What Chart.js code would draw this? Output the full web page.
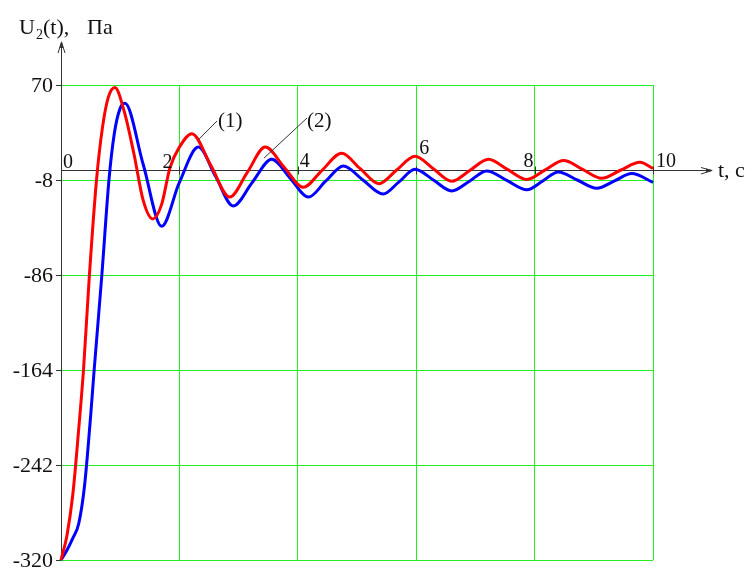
<!DOCTYPE html>
<html><head><meta charset="utf-8">
<script src="https://cdn.jsdelivr.net/npm/chart.js@4.4.0/dist/chart.umd.min.js"></script>
<style>html,body{margin:0;padding:0;background:#fff;}canvas{display:block;}</style>
</head><body>
<canvas id="c" width="755" height="570"></canvas>
<script>
// ---- data ----
const tRed = [0,0.1,0.2,0.3,0.38,0.48,0.6,0.7,0.8,0.91,1.07,1.23,1.39,1.55,1.7,1.84,2.0,2.21,2.53,2.85,3.15,3.45,3.77,4.09,4.41,4.74,5.05,5.37,5.67,5.98,6.29,6.6,6.91,7.22,7.54,7.87,8.18,8.49,8.81,9.13,9.45,9.78,10];
const uRed = [-320,-300,-266,-212,-164,-86,-8,35,60,68,48,14,-25,-40,-28,2,19,30,4,-22,-1.5,19,2.5,-14,0,14,1.5,-11,0.25,11.5,1.25,-9,0,9,0.75,-7.5,0.25,8,0.7,-6.6,0,6.5,1.5];
const tBlue = [0,0.1,0.2,0.3,0.4,0.5,0.56,0.69,0.81,0.9,1.0,1.08,1.39,1.7,2.0,2.32,2.61,2.91,3.23,3.56,3.87,4.18,4.47,4.77,5.1,5.44,5.71,5.98,6.29,6.6,6.9,7.19,7.53,7.87,8.14,8.4,8.72,9.05,9.35,9.64,10];
const uBlue = [-320,-312,-302,-290,-258,-202,-164,-86,-8,30,51,55,4.5,-46,-10,19,-5,-29.3,-10,9,-6.5,-22,-9,3.5,-8,-19.5,-9.5,0.8,-8,-17,-9,-0.6,-8.3,-16,-8.7,-1.4,-8,-14.8,-8.7,-2.7,-10];
const yTicks = [70,-8,-86,-164,-242,-320];
const xTicks = [0,2,4,6,8,10];
const xTickLabels = ['0','2','4','6','8','10'];
const seriesLabels = ['(1)','(2)'];
const labelAnchorT = [2.32,3.43];
const yAxisTitle = ['U','2','(t),','Па'];
const xAxisTitle = 't, c';

const toXY = (ts, us) => ts.map((t, i) => ({x: t, y: us[i]}));
const SERIF = '"Liberation Serif","DejaVu Serif",serif';

const axesPlugin = {
  id: 'axes',
  beforeDatasetsDraw(chart) {
    const {ctx, scales: {x, y}} = chart;
    const x0 = x.getPixelForValue(0), y0 = y.getPixelForValue(0);
    const yb = y.getPixelForValue(-320);
    ctx.save();
    ctx.strokeStyle = '#333'; ctx.fillStyle = '#333'; ctx.lineWidth = 1;
    // y axis
    ctx.beginPath(); ctx.moveTo(x0 + 0.5, yb); ctx.lineTo(x0 + 0.5, 42); ctx.stroke();
    ctx.beginPath(); ctx.moveTo(x0 - 3, 53); ctx.lineTo(x0 + 0.5, 42); ctx.lineTo(x0 + 4, 53); ctx.stroke();
    ctx.beginPath(); ctx.moveTo(x0 + 0.5, 41); ctx.lineTo(x0 - 1.5, 48); ctx.lineTo(x0 + 2.5, 48); ctx.closePath(); ctx.fill();
    // y tick marks
    yTicks.forEach(v => {
      const py = Math.round(y.getPixelForValue(v)) + 0.5;
      ctx.beginPath(); ctx.moveTo(x0 - 5, py); ctx.lineTo(x0, py); ctx.stroke();
    });
    // x axis at 0
    const py0 = Math.round(y0) + 0.5;
    ctx.beginPath(); ctx.moveTo(x0, py0); ctx.lineTo(712, py0); ctx.stroke();
    ctx.beginPath(); ctx.moveTo(701, py0 - 3); ctx.lineTo(712, py0); ctx.lineTo(701, py0 + 3.5); ctx.stroke();
    ctx.beginPath(); ctx.moveTo(713, py0); ctx.lineTo(706, py0 - 2); ctx.lineTo(706, py0 + 2); ctx.closePath(); ctx.fill();
    xTicks.forEach(t => {
      if (t === 0) return;
      const px = Math.round(x.getPixelForValue(t)) + 0.5;
      ctx.beginPath(); ctx.moveTo(px, py0 - 4); ctx.lineTo(px, py0 + 4); ctx.stroke();
    });
    ctx.restore();
  },
  afterDraw(chart) {
    const {ctx, scales: {x, y}} = chart;
    const x0 = x.getPixelForValue(0), y0 = y.getPixelForValue(0);
    ctx.save();
    ctx.fillStyle = '#111';
    // y tick labels
    ctx.font = '22px ' + SERIF; ctx.textAlign = 'right'; ctx.textBaseline = 'middle';
    yTicks.forEach(v => ctx.fillText(String(v), x0 - 8, y.getPixelForValue(v) + 1));
    // x tick labels (placement as in the reference)
    const place = [[2,'left',-2],[-7,'right',-2],[2,'left',-3],[3,'left',-16],[-1,'right',-3],[3,'left',-3]];
    ctx.font = '20px ' + SERIF; ctx.textBaseline = 'alphabetic';
    xTicks.forEach((t, i) => {
      const p = place[i];
      ctx.textAlign = p[1];
      ctx.fillText(xTickLabels[i], x.getPixelForValue(t) + p[0], y0 + p[2]);
    });
    // axis titles
    ctx.textAlign = 'left';
    ctx.font = '22px ' + SERIF;
    ctx.fillText(yAxisTitle[0], 19, 34);
    ctx.font = '14px ' + SERIF;
    ctx.fillText(yAxisTitle[1], 36, 39);
    ctx.font = '22px ' + SERIF;
    ctx.fillText(yAxisTitle[2], 43, 34);
    ctx.fillText(yAxisTitle[3], 87, 34);
    ctx.fillText(xAxisTitle, 718, 177);
    // series labels with leader lines
    ctx.strokeStyle = '#333'; ctx.lineWidth = 1;
    const lab = [[217, 121, 218, 127], [307, 118, 307, 127]];
    const anchorV = [25, 10];
    chart.data.datasets.forEach((ds, i) => {
      const ax = x.getPixelForValue(labelAnchorT[i]), ay = y.getPixelForValue(anchorV[i]);
      ctx.beginPath(); ctx.moveTo(ax, ay); ctx.lineTo(lab[i][0], lab[i][1]); ctx.stroke();
      ctx.font = '21px ' + SERIF;
      ctx.fillText(seriesLabels[i], lab[i][2], lab[i][3]);
    });
    ctx.restore();
  }
};

new Chart(document.getElementById('c'), {
  type: 'line',
  data: {
    datasets: [
      {label: seriesLabels[0], data: toXY(tRed, uRed), borderColor: '#ff0000', borderWidth: 3, pointRadius: 0, cubicInterpolationMode: 'monotone', fill: false, clip: 4},
      {label: seriesLabels[1], data: toXY(tBlue, uBlue), borderColor: '#0000ff', borderWidth: 3, pointRadius: 0, cubicInterpolationMode: 'monotone', fill: false, clip: 4}
    ]
  },
  options: {
    responsive: false, animation: false, devicePixelRatio: 1,
    layout: {padding: {left: 61, right: 102, top: 85, bottom: 10}},
    plugins: {legend: {display: false}, tooltip: {enabled: false}},
    scales: {
      x: {
        type: 'linear', min: 0, max: 10,
        afterBuildTicks: s => { s.ticks = xTicks.map(v => ({value: v})); },
        ticks: {display: false},
        border: {display: false},
        grid: {drawTicks: false, lineWidth: 1, color: c => (c.tick && c.tick.value === 0) ? 'rgba(0,0,0,0)' : '#22ee22'}
      },
      y: {
        type: 'linear', min: -320, max: 70,
        afterBuildTicks: s => { s.ticks = yTicks.map(v => ({value: v})); },
        ticks: {display: false},
        border: {display: false},
        grid: {drawTicks: false, lineWidth: 1, color: '#22ee22'}
      }
    }
  },
  plugins: [axesPlugin]
});
</script>
</body></html>
